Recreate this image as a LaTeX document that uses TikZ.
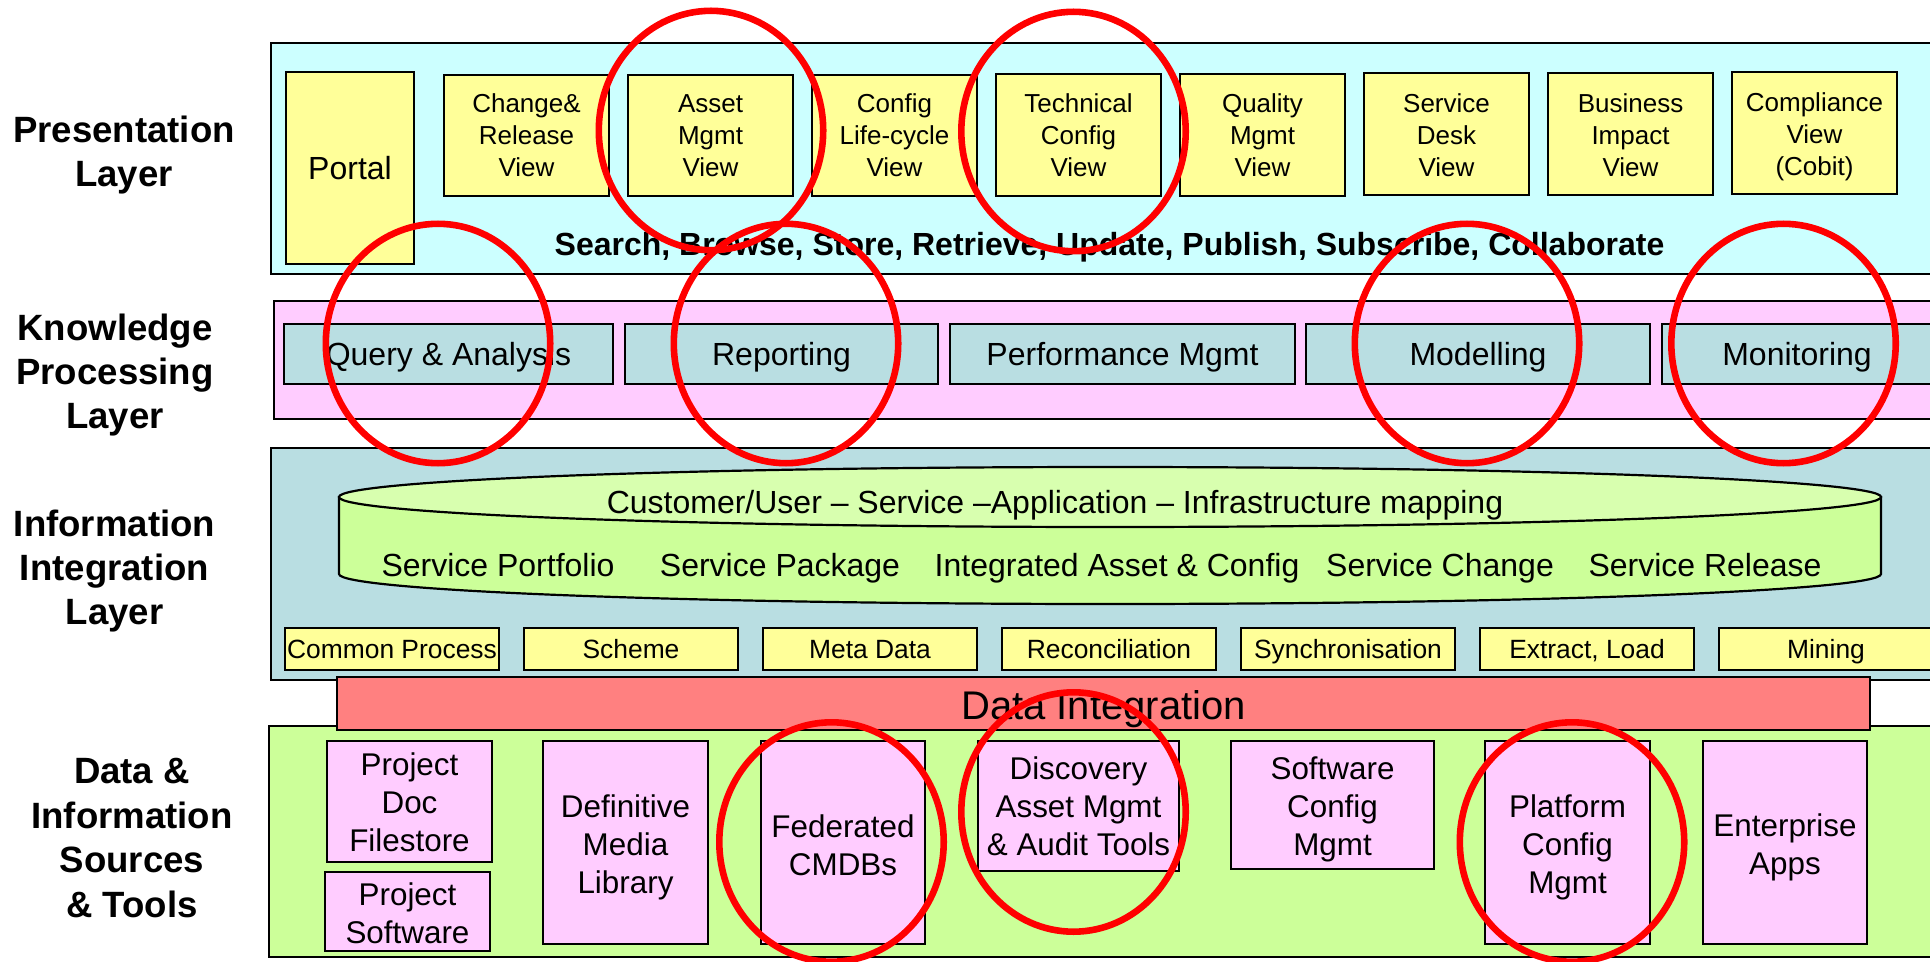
\documentclass[tikz,border=0pt]{standalone}
\usepackage{fontspec}
\setmainfont{Liberation Sans}
\definecolor{cyanL}{RGB}{204,255,255}
\definecolor{yelL}{RGB}{255,255,153}
\definecolor{pinkL}{RGB}{255,204,255}
\definecolor{tealL}{RGB}{185,222,226}
\definecolor{greenL}{RGB}{204,255,153}
\definecolor{cyltop}{RGB}{216,255,175}
\definecolor{salmonL}{RGB}{255,128,128}
\definecolor{ringred}{RGB}{255,0,0}
\newcommand\bx[7]{%
  \pgfmathsetmacro\bxw{((#4)-(#2))*0.5}%
  \pgfmathsetmacro\bxh{((#5)-(#3))*0.5}%
  \pgfmathsetmacro\bxx{((#2)+(#4))/2}%
  \pgfmathsetmacro\bxy{((#3)+(#5))/2}%
  \node[#6, minimum width=\bxw pt, minimum height=\bxh pt] (#1) at (\bxx,\bxy) {#7};}
% box with separately placed, shifted text
\newcommand\bxs[8]{%
  \bx{#1}{#2}{#3}{#4}{#5}{#6}{}%
  \node[#6, draw=none, fill=none, yshift=#8] (#1-t) at (#1.center) {#7};}
\tikzset{
  box/.style={draw=black, line width=1.1pt, inner sep=0pt, outer sep=0pt, align=center},
  viewbox/.style={box, fill=yelL, font=\fontsize{13}{16}\selectfont},
  kbox/.style={box, fill=tealL, font=\fontsize{16}{19}\selectfont, text height=11.5pt, text depth=0pt},
  sbox/.style={box, fill=yelL, font=\fontsize{13.2}{16}\selectfont, text height=9.5pt, text depth=0pt},
  dbox/.style={box, fill=pinkL, font=\fontsize{15.7}{19}\selectfont},
  ctext/.style={inner sep=0pt, font=\fontsize{16}{19}\selectfont, text height=11.5pt, text depth=0pt},
  lbl/.style={align=center, inner sep=0pt, font=\bfseries\fontsize{18.3}{22.2}\selectfont},
  ring/.style={draw=ringred, line width=3.3pt},
}
\begin{document}
\begin{tikzpicture}[x=0.5pt,y=-0.5pt]
\useasboundingbox (0,0) rectangle (1930,962);
\fill[white] (0,0) rectangle (1930,962);
\clip (0,0) rectangle (1930,962);

% layers
\bx{pres}{271}{43}{1950}{274}{box,fill=cyanL}{}
\bx{know}{274}{301}{1950}{419}{box,fill=pinkL}{}
\bx{info}{271}{448}{1950}{680}{box,fill=tealL}{}
\bx{data}{269}{726}{1950}{957}{box,fill=greenL}{}
\bxs{dint}{337}{677}{1870}{730}{box,fill=salmonL,font=\fontsize{20}{24}\selectfont,text height=14.3pt,text depth=0pt}{Data Integration}{-1pt}

% labels
\node[lbl] (Lpres) at (124,155) {Presentation\\Layer};
\node[lbl] (Lknow) at (115,375) {Knowledge\\Processing\\Layer};
\node[lbl] (Linfo) at (114.5,571) {Information\\Integration\\Layer};
\node[lbl] (Ldata) at (132,838) {Data \&\\Information\\Sources\\\& Tools};

% presentation layer
\bx{portal}{286}{72}{414}{264}{box,fill=yelL,font=\fontsize{16}{19}\selectfont}{Portal}
\bx{v1}{444}{75}{609}{196}{viewbox}{Change\&\\Release\\View}
\bx{v2}{628}{75}{793}{196}{viewbox}{Asset\\Mgmt\\View}
\bx{v3}{812}{75}{977}{196}{viewbox}{Config\\Life-cycle\\View}
\bx{v4}{996}{74}{1161}{196}{viewbox}{Technical\\Config\\View}
\bx{v5}{1180}{74}{1345}{196}{viewbox}{Quality\\Mgmt\\View}
\bxs{v6}{1364}{73}{1529}{195}{viewbox}{Service\\Desk\\View}{-0.7pt}
\bxs{v7}{1548}{73}{1713}{195}{viewbox}{Business\\Impact\\View}{-0.7pt}
\bxs{v8}{1732}{72}{1897}{194}{viewbox}{Compliance\\View\\(Cobit)}{-1.8pt}
\node[inner sep=0pt, font=\bfseries\fontsize{16}{19}\selectfont, text height=11.5pt, text depth=0pt] (search) at (1109.5,244) {Search, Browse, Store, Retrieve, Update, Publish, Subscribe, Collaborate};

% knowledge layer
\bx{k1}{284}{324}{613}{384}{kbox}{Query \& Analysis}
\bx{k2}{625}{324}{938}{384}{kbox}{Reporting}
\bx{k3}{950}{324}{1295}{384}{kbox}{Performance Mgmt}
\bx{k4}{1306}{324}{1650}{384}{kbox}{Modelling}
\bx{k5}{1662}{324}{1932}{384}{kbox}{Monitoring}

% cylinder
\draw[fill=greenL, line width=1.1pt] (339,497) -- (339,574) arc[start angle=180, end angle=360, x radius=385.5pt, y radius=15pt] -- (1881,497) -- cycle;
\draw[fill=cyltop, line width=1.1pt] (1110,497) ellipse [x radius=385.5pt, y radius=15pt];
\node[ctext] (cmap) at (1055,502) {Customer/User – Service –Application – Infrastructure mapping};
\node[ctext] (sp1) at (498,565) {Service Portfolio};
\node[ctext] (sp2) at (780,565) {Service Package};
\node[ctext] (sp3) at (1117,565) {Integrated Asset \& Config};
\node[ctext] (sp4) at (1440,565) {Service Change};
\node[ctext] (sp5) at (1705,565) {Service Release};

% small boxes
\bx{s1}{285}{628}{499}{670}{sbox}{Common Process}
\bx{s2}{524}{628}{738}{670}{sbox}{Scheme}
\bx{s3}{763}{628}{977}{670}{sbox}{Meta Data}
\bx{s4}{1002}{628}{1216}{670}{sbox}{Reconciliation}
\bx{s5}{1241}{628}{1455}{670}{sbox}{Synchronisation}
\bx{s6}{1480}{628}{1694}{670}{sbox}{Extract, Load}
\bx{s7}{1719}{628}{1933}{670}{sbox}{Mining}

% data layer
\bxs{d1}{327}{741}{492}{862}{dbox}{Project\\Doc\\Filestore}{-0.6pt}
\bxs{d2}{325}{872}{490}{951}{dbox}{Project\\Software}{-0.8pt}
\bxs{d3}{543}{741}{708}{944}{dbox}{Definitive\\Media\\Library}{-2.5pt}
\bxs{d4}{761}{741}{925}{944}{dbox}{Federated\\CMDBs}{-1.3pt}
\bxs{d5}{978}{741}{1179}{871}{dbox}{Discovery\\Asset Mgmt\\\& Audit Tools}{0pt}
\bxs{d6}{1231}{741}{1434}{869}{dbox}{Software\\Config\\Mgmt}{-2pt}
\bxs{d7}{1485}{741}{1650}{944}{dbox}{Platform\\Config\\Mgmt}{-2.5pt}
\bxs{d8}{1703}{741}{1867}{944}{dbox}{Enterprise\\Apps}{-2.5pt}

% red rings
\draw[ring] (711,130.5) ellipse [x radius=56.1pt, y radius=59.85pt];
\draw[ring] (1073.5,131.5) ellipse [x radius=56.1pt, y radius=59.85pt];
\draw[ring] (438,343.5) ellipse [x radius=56.1pt, y radius=59.85pt];
\draw[ring] (786,343.5) ellipse [x radius=56.1pt, y radius=59.85pt];
\draw[ring] (1467,343.5) ellipse [x radius=56.1pt, y radius=59.85pt];
\draw[ring] (1783.5,343.5) ellipse [x radius=56.1pt, y radius=59.85pt];
\draw[ring] (831.5,842) ellipse [x radius=56.1pt, y radius=59.85pt];
\draw[ring] (1073.5,812) ellipse [x radius=56.1pt, y radius=59.85pt];
\draw[ring] (1572,842) ellipse [x radius=56.1pt, y radius=59.85pt];
\end{tikzpicture}
\end{document}
